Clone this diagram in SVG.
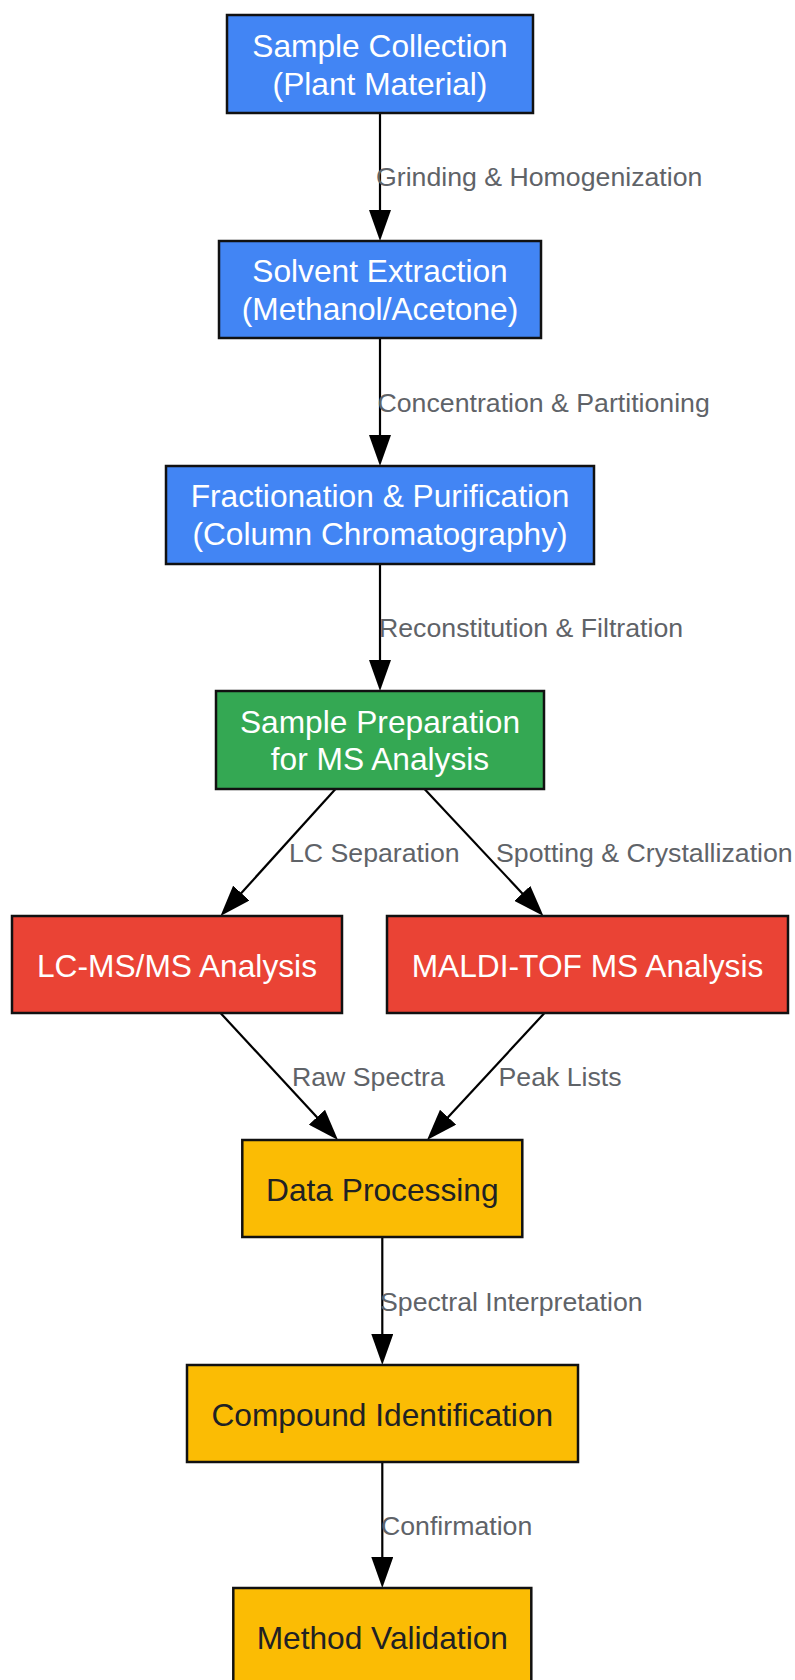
<svg xmlns="http://www.w3.org/2000/svg" width="795" height="1680" viewBox="0 0 795 1680">
<defs>
<style>
.n{stroke:#111;stroke-width:2.5}
.blue{fill:#4285F4}
.green{fill:#34A853}
.red{fill:#EA4335}
.yellow{fill:#FBBC04}
.t{font-family:"Liberation Sans",Arial,sans-serif;font-size:31.7px;text-anchor:middle}
.w{fill:#ffffff}
.d{fill:#202124}
.e{stroke:#000;stroke-width:2.2;fill:none;marker-end:url(#arr)}
.l{font-family:"Liberation Sans",Arial,sans-serif;font-size:26.7px;fill:#5F6368}
</style>
<marker id="arr" markerUnits="userSpaceOnUse" markerWidth="31" markerHeight="22" refX="11" refY="11" orient="auto">
<path d="M0,0 L31,11 L0,22 z" fill="#000"/>
</marker>
</defs>
<rect width="795" height="1680" fill="#ffffff"/>
<g id="connectors">
<line class="e" x1="380" y1="113" x2="380" y2="221"/>
<line class="e" x1="380" y1="338" x2="380" y2="446"/>
<line class="e" x1="380" y1="564" x2="380" y2="671"/>
<line class="e" x1="335.5" y1="789" x2="233.9" y2="901.2"/>
<line class="e" x1="424.5" y1="789" x2="529.8" y2="901.4"/>
<line class="e" x1="220.5" y1="1013" x2="324.4" y2="1125.3"/>
<line class="e" x1="544.5" y1="1013" x2="440.6" y2="1125.3"/>
<line class="e" x1="382.3" y1="1237" x2="382.3" y2="1345"/>
<line class="e" x1="382.3" y1="1462" x2="382.3" y2="1568"/>
<text class="l" x="376" y="186">Grinding &amp; Homogenization</text>
<text class="l" x="377.5" y="412">Concentration &amp; Partitioning</text>
<text class="l" x="379" y="637">Reconstitution &amp; Filtration</text>
<text class="l" x="289" y="862">LC Separation</text>
<text class="l" x="496" y="862">Spotting &amp; Crystallization</text>
<text class="l" x="292" y="1086">Raw Spectra</text>
<text class="l" x="498.5" y="1086">Peak Lists</text>
<text class="l" x="380" y="1311">Spectral Interpretation</text>
<text class="l" x="381" y="1535">Confirmation</text>
</g>
<g id="sample-collection">
<rect class="n blue" x="227" y="15" width="306" height="98"/>
<text class="t w" x="380" y="56.5">Sample Collection</text>
<text class="t w" x="380" y="94.5">(Plant Material)</text>
</g>
<g id="solvent-extraction">
<rect class="n blue" x="219" y="241" width="322" height="97"/>
<text class="t w" x="380" y="282">Solvent Extraction</text>
<text class="t w" x="380" y="319.5">(Methanol/Acetone)</text>
</g>
<g id="fractionation">
<rect class="n blue" x="166" y="466" width="428" height="98"/>
<text class="t w" x="380" y="507">Fractionation &amp; Purification</text>
<text class="t w" x="380" y="545">(Column Chromatography)</text>
</g>
<g id="sample-preparation">
<rect class="n green" x="216" y="691" width="328" height="98"/>
<text class="t w" x="380" y="732.5">Sample Preparation</text>
<text class="t w" x="380" y="770">for MS Analysis</text>
</g>
<g id="lc-msms">
<rect class="n red" x="12" y="916" width="330" height="97"/>
<text class="t w" x="177" y="976.5">LC-MS/MS Analysis</text>
</g>
<g id="maldi-tof">
<rect class="n red" x="387" y="916" width="401" height="97"/>
<text class="t w" x="587.5" y="976.5">MALDI-TOF MS Analysis</text>
</g>
<g id="data-processing">
<rect class="n yellow" x="242.3" y="1140" width="280" height="97"/>
<text class="t d" x="382.3" y="1201">Data Processing</text>
</g>
<g id="compound-identification">
<rect class="n yellow" x="187" y="1365" width="391" height="97"/>
<text class="t d" x="382.3" y="1425.5">Compound Identification</text>
</g>
<g id="method-validation">
<rect class="n yellow" x="233.3" y="1588" width="298" height="98"/>
<text class="t d" x="382.3" y="1648.5">Method Validation</text>
</g>
</svg>
